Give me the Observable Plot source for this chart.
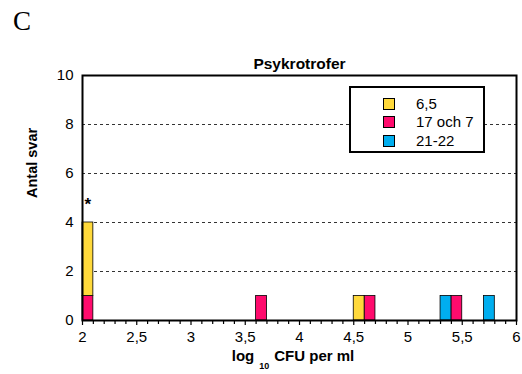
<!DOCTYPE html>
<html><head><meta charset="utf-8">
<script src="https://cdn.jsdelivr.net/npm/d3@7"></script>
<script src="https://cdn.jsdelivr.net/npm/@observablehq/plot@0.6"></script>
<style>
body{margin:0;background:#fff;font-family:"Liberation Sans",Arial,sans-serif;}
#wrap{position:relative;width:522px;height:374px;}
#letter{position:absolute;left:13px;top:6px;font-family:"Liberation Serif",serif;font-size:27px;}
#xlabel{position:absolute;left:-6px;width:598px;top:347px;text-align:center;font-weight:bold;font-size:15px;line-height:18px;}
#xlabel sub{font-size:9px;vertical-align:-8px;margin:0 5px 0 5px;}
#legend{position:absolute;left:349px;top:86px;width:132px;height:63px;border:2px solid #000;background:#fff;font-size:15px;}
.item{position:absolute;left:32px;height:14px;}
.sw{position:absolute;left:0;top:0;width:10px;height:10px;border:1.5px solid #000;}
.lt{position:absolute;left:33px;top:-3px;white-space:nowrap;line-height:18px;}
</style></head>
<body><div id="wrap"><div id="letter">C</div><div id="xlabel">log<sub>10</sub>CFU per ml</div><div id="legend"></div></div>
<script>
const seriesNames = ["6,5", "17 och 7", "21-22"];
const seriesColors = ["#FFD93B", "#FF0B6D", "#00AEEF"];
const binWidth = 0.1;
// bin starts and counts per series (17 och 7 first so it sits at the bottom of the stack)
const starts17 = [2.0, 3.6, 4.6, 5.4];
const counts17 = [1, 1, 1, 1];
const starts65 = [2.0, 4.5];
const counts65 = [3, 1];
const starts21 = [5.3, 5.7];
const counts21 = [1, 1];
const yTicks = [0, 2, 4, 6, 8, 10];
const gridTicks = [2, 4, 6, 8];
const xTicks = [2, 2.5, 3, 3.5, 4, 4.5, 5, 5.5, 6];
const minorXTicks = [2.1,2.2,2.3,2.4,2.6,2.7,2.8,2.9,3.1,3.2,3.3,3.4,3.6,3.7,3.8,3.9,4.1,4.2,4.3,4.4,4.6,4.7,4.8,4.9,5.1,5.2,5.3,5.4,5.6,5.7,5.8,5.9];
const starX = [2.05];
const starY = [4];

const rows = [];
function add(name, starts, counts){ starts.forEach((s,i)=>rows.push({series:name,start:s,end:s+binWidth,count:counts[i]})); }
add("17 och 7", starts17, counts17);
add("6,5", starts65, counts65);
add("21-22", starts21, counts21);

const fmt = d => String(d).replace(".", ",");

const chart = Plot.plot({
  width: 522, height: 374,
  marginLeft: 82, marginRight: 6, marginTop: 75, marginBottom: 54,
  style: {fontFamily: "Liberation Sans, Arial, sans-serif", fontSize: "15px", color: "#000", background: "transparent"},
  x: {domain: [2, 6], label: null},
  y: {domain: [0, 10], label: null},
  color: {domain: seriesNames, range: seriesColors},
  marks: [
    Plot.gridY(gridTicks, {stroke: "#333", strokeOpacity: 1, strokeDasharray: "3,3", strokeWidth: 1}),
    Plot.rectY(rows, {x1: "start", x2: "end", y: "count", fill: "series", stroke: "#000", strokeWidth: 0.8}),
    Plot.axisX(minorXTicks, {tickSize: 4, tickFormat: () => "", strokeWidth: 1.2}),
    Plot.axisX(xTicks, {tickSize: 5, tickPadding: 6, tickFormat: fmt, fontSize: 15, strokeWidth: 1.2}),
    Plot.axisY(yTicks, {tickSize: 0, tickPadding: 9, fontSize: 15}),
    Plot.frame({stroke: "#000", strokeWidth: 2}),
    Plot.text(["*"], {x: starX, y: starY, dy: -18, fontSize: 17, fontWeight: "bold"}),
    Plot.text(["Psykrotrofer"], {frameAnchor: "top", dy: -18, fontSize: 15.5, fontWeight: "bold"}),
    Plot.text(["Antal svar"], {frameAnchor: "left", dx: -50, rotate: -90, fontSize: 14.5, fontWeight: "bold"})
  ]
});
document.getElementById("wrap").prepend(chart);
chart.style.position = "absolute"; chart.style.left = "0"; chart.style.top = "0";

const leg = document.getElementById("legend");
seriesNames.forEach((n,i)=>{
  const it = document.createElement("div"); it.className="item"; it.style.top = (10 + i*18.3) + "px";
  const sw = document.createElement("div"); sw.className="sw"; sw.style.background = seriesColors[i];
  const lt = document.createElement("div"); lt.className="lt"; lt.textContent = n;
  it.append(sw, lt); leg.append(it);
});
</script></body></html>
